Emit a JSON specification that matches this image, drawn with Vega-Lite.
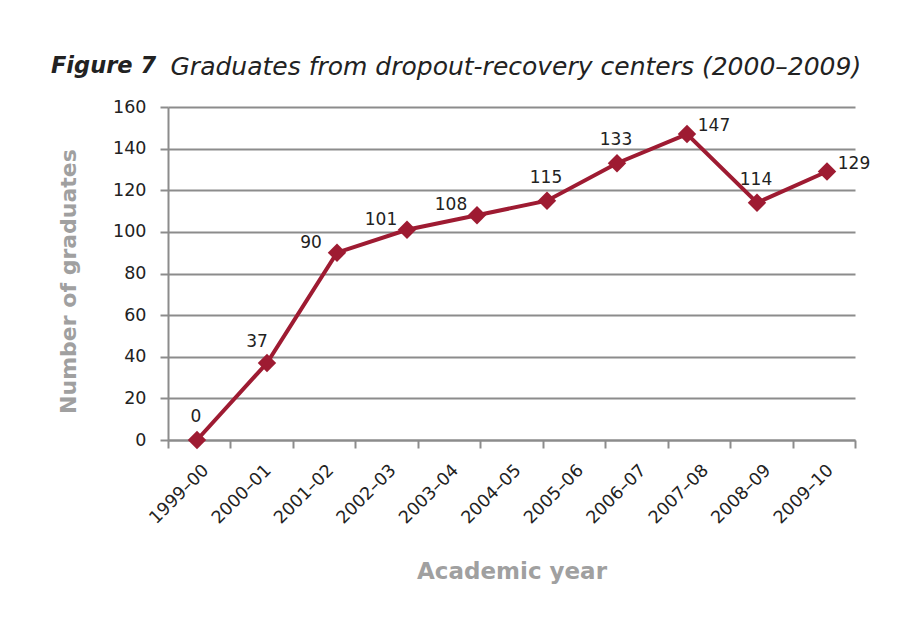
{
  "$schema": "https://vega.github.io/schema/vega-lite/v6.json",
  "width": 687,
  "height": 333,
  "autosize": {"type": "none"},
  "padding": {"left": 168, "top": 107, "right": 61, "bottom": 192},
  "background": "white",
  "title": {
    "text": "Figure 7",
    "anchor": "start",
    "frame": "group",
    "dx": -117,
    "font": "DejaVu Sans",
    "fontSize": 22.5,
    "fontStyle": "italic",
    "fontWeight": "bold",
    "color": "#222222",
    "baseline": "alphabetic",
    "offset": -41
  },
  "config": {"view": {"stroke": null}, "font": "DejaVu Sans"},
  "datasets": {
    "years": [
      {"academic_year": "1999–00"},
      {"academic_year": "2000–01"},
      {"academic_year": "2001–02"},
      {"academic_year": "2002–03"},
      {"academic_year": "2003–04"},
      {"academic_year": "2004–05"},
      {"academic_year": "2005–06"},
      {"academic_year": "2006–07"},
      {"academic_year": "2007–08"},
      {"academic_year": "2008–09"},
      {"academic_year": "2009–10"}
    ],
    "graduates": [
      {"year": 2000, "graduates": 0},
      {"year": 2001, "graduates": 37},
      {"year": 2002, "graduates": 90},
      {"year": 2003, "graduates": 101},
      {"year": 2004, "graduates": 108},
      {"year": 2005, "graduates": 115},
      {"year": 2006, "graduates": 133},
      {"year": 2007, "graduates": 147},
      {"year": 2008, "graduates": 114},
      {"year": 2009, "graduates": 129}
    ]
  },
  "layer": [
    {
      "data": {"name": "years"},
      "mark": {"type": "tick", "opacity": 0},
      "encoding": {
        "x": {
          "field": "academic_year",
          "type": "ordinal",
          "sort": null,
          "scale": {"type": "band", "paddingInner": 0, "paddingOuter": 0},
          "axis": {
            "title": "Academic year",
            "orient": "bottom",
            "grid": false,
            "tickBand": "extent",
            "tickExtra": true,
            "domainColor": "#8c8c8c",
            "domainWidth": 2,
            "tickColor": "#8c8c8c",
            "tickWidth": 2,
            "tickSize": 8,
            "labelAngle": -45,
            "labelAlign": "right",
            "labelBaseline": "top",
            "labelPadding": 13,
            "labelFont": "DejaVu Sans",
            "labelFontSize": 17.5,
            "labelColor": "#222222",
            "titleFont": "DejaVu Sans",
            "titleFontSize": 23,
            "titleFontWeight": "bold",
            "titleColor": "#a0a0a0",
            "titleX": 343.5,
            "titleY": 131,
            "titleAlign": "center",
            "titleBaseline": "middle"
          }
        }
      }
    },
    {
      "data": {"name": "graduates"},
      "encoding": {
        "x": {
          "field": "year",
          "type": "quantitative",
          "scale": {"domain": [1999.586, 2009.4], "nice": false, "zero": false},
          "axis": {
            "orient": "top",
            "title": "Graduates from dropout-recovery centers (2000–2009)",
            "labels": false,
            "ticks": false,
            "domain": false,
            "grid": false,
            "titleX": 2,
            "titleY": -33,
            "titleAlign": "left",
            "titleBaseline": "alphabetic",
            "titleFont": "DejaVu Sans",
            "titleFontSize": 25,
            "titleFontStyle": "italic",
            "titleFontWeight": "normal",
            "titleColor": "#222222"
          }
        },
        "y": {
          "field": "graduates",
          "type": "quantitative",
          "scale": {"domain": [0, 160], "nice": false},
          "axis": {
            "title": "Number of graduates",
            "values": [0, 20, 40, 60, 80, 100, 120, 140, 160],
            "grid": true,
            "gridColor": "#8c8c8c",
            "gridWidth": 2,
            "domainColor": "#8c8c8c",
            "domainWidth": 2,
            "tickColor": "#8c8c8c",
            "tickWidth": 2,
            "tickSize": 8,
            "labelFont": "DejaVu Sans",
            "labelFontSize": 17.5,
            "labelColor": "#222222",
            "labelPadding": 14,
            "titleFont": "DejaVu Sans",
            "titleFontSize": 22,
            "titleFontWeight": "bold",
            "titleColor": "#a0a0a0",
            "titleX": -100,
            "titleY": 174,
            "titleAngle": -90,
            "titleAlign": "center",
            "titleBaseline": "middle"
          }
        }
      },
      "layer": [
        {"mark": {"type": "line", "color": "#9e1b32", "strokeWidth": 4}},
        {"mark": {"type": "point", "shape": "diamond", "size": 340, "filled": true, "opacity": 1, "color": "#9e1b32"}},
        {
          "transform": [{"filter": {"field": "year", "oneOf": [2000, 2005, 2006, 2008]}}],
          "mark": {"type": "text", "font": "DejaVu Sans", "fontSize": 17, "color": "#222222", "dx": -1, "dy": -23, "baseline": "middle", "align": "center"},
          "encoding": {"text": {"field": "graduates", "type": "quantitative"}}
        },
        {
          "transform": [{"filter": {"field": "year", "oneOf": [2001]}}],
          "mark": {"type": "text", "font": "DejaVu Sans", "fontSize": 17, "color": "#222222", "dx": -10, "dy": -21, "baseline": "middle", "align": "center"},
          "encoding": {"text": {"field": "graduates", "type": "quantitative"}}
        },
        {
          "transform": [{"filter": {"field": "year", "oneOf": [2002, 2003, 2004]}}],
          "mark": {"type": "text", "font": "DejaVu Sans", "fontSize": 17, "color": "#222222", "dx": -26, "dy": -10, "baseline": "middle", "align": "center"},
          "encoding": {"text": {"field": "graduates", "type": "quantitative"}}
        },
        {
          "transform": [{"filter": {"field": "year", "oneOf": [2007, 2009]}}],
          "mark": {"type": "text", "font": "DejaVu Sans", "fontSize": 17, "color": "#222222", "dx": 27, "dy": -8, "baseline": "middle", "align": "center"},
          "encoding": {"text": {"field": "graduates", "type": "quantitative"}}
        }
      ]
    }
  ],
  "resolve": {"scale": {"x": "independent"}, "axis": {"x": "independent"}}
}
